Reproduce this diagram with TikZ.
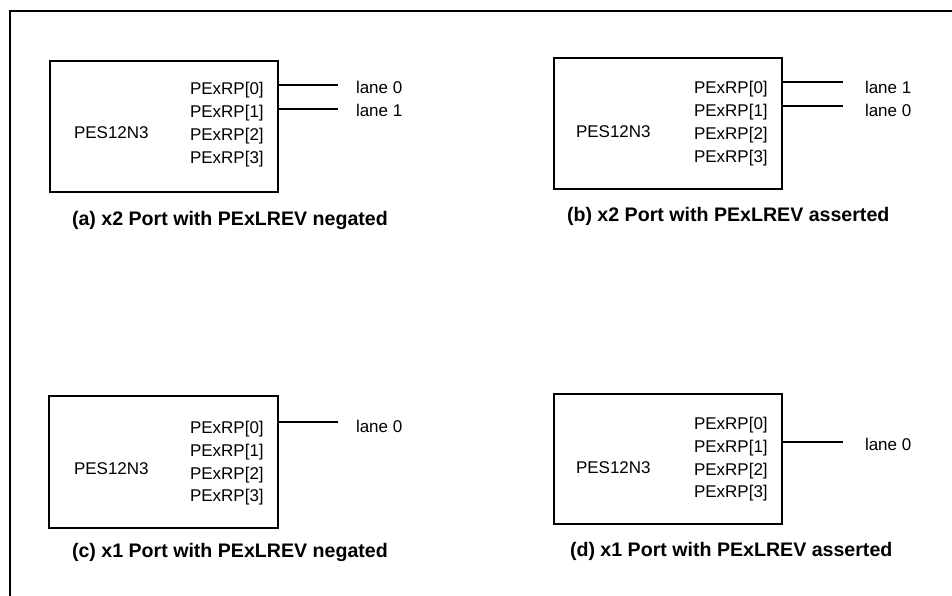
\documentclass[tikz,border=0pt]{standalone}
\usepackage{fontspec}
\setmainfont{Liberation Sans}
\begin{document}
\begin{tikzpicture}[x=1pt,y=-1pt,
  every node/.style={inner sep=0pt,outer sep=0pt,font=\fontsize{17}{20}\selectfont},
  lbl/.style={anchor=base west},
  captxt/.style={anchor=base west,font=\fontsize{19.6}{22}\selectfont\bfseries},
  chip/.style={draw,line width=2pt},
  wire/.style={line width=2pt}]
\useasboundingbox (0,0) rectangle (952,596);
\draw[line width=2pt] (10,597) -- (10,11) -- (953,11);

% (a)
\node[chip,minimum width=228pt,minimum height=131pt,anchor=north west] (A) at (50,61) {};
\node[lbl] (A0) at (190,95) {PExRP[0]};
\node[lbl] (A1) at (190,118) {PExRP[1]};
\node[lbl] (A2) at (190,141) {PExRP[2]};
\node[lbl] (A3) at (190,164) {PExRP[3]};
\node[lbl] (An) at (74,139) {PES12N3};
\node[lbl] (AL0) at (356,94) {lane 0};
\node[lbl] (AL1) at (356,117) {lane 1};
\coordinate (a0s) at (279,85); \coordinate (a0e) at (338,85);
\coordinate (a1s) at (279,109); \coordinate (a1e) at (338,109);
\draw[wire] (a0s) -- (a0e);
\draw[wire] (a1s) -- (a1e);
\node[captxt] (Ac) at (72,225) {(a) x2 Port with PExLREV negated};

% (b)
\node[chip,minimum width=228pt,minimum height=131pt,anchor=north west] (B) at (554,58) {};
\node[lbl] (B0) at (694,94) {PExRP[0]};
\node[lbl] (B1) at (694,117) {PExRP[1]};
\node[lbl] (B2) at (694,140) {PExRP[2]};
\node[lbl] (B3) at (694,163) {PExRP[3]};
\node[lbl] (Bn) at (576,138) {PES12N3};
\node[lbl] (BL1) at (865,94) {lane 1};
\node[lbl] (BL0) at (865,117) {lane 0};
\coordinate (b0s) at (783,82); \coordinate (b0e) at (843,82);
\coordinate (b1s) at (783,106); \coordinate (b1e) at (843,106);
\draw[wire] (b0s) -- (b0e);
\draw[wire] (b1s) -- (b1e);
\node[captxt] (Bc) at (567,221) {(b) x2 Port with PExLREV asserted};

% (c)
\node[chip,minimum width=229pt,minimum height=132pt,anchor=north west] (C) at (49,396) {};
\node[lbl] (C0) at (190,433) {PExRP[0]};
\node[lbl] (C1) at (190,456) {PExRP[1]};
\node[lbl] (C2) at (190,479) {PExRP[2]};
\node[lbl] (C3) at (190,501) {PExRP[3]};
\node[lbl] (Cn) at (74,474) {PES12N3};
\node[lbl] (CL0) at (356,432) {lane 0};
\coordinate (c0s) at (279,422); \coordinate (c0e) at (338,422);
\draw[wire] (c0s) -- (c0e);
\node[captxt] (Cc) at (72,557) {(c) x1 Port with PExLREV negated};

% (d)
\node[chip,minimum width=228pt,minimum height=130pt,anchor=north west] (D) at (554,394) {};
\node[lbl] (D0) at (694,429) {PExRP[0]};
\node[lbl] (D1) at (694,452) {PExRP[1]};
\node[lbl] (D2) at (694,475) {PExRP[2]};
\node[lbl] (D3) at (694,497) {PExRP[3]};
\node[lbl] (Dn) at (576,473) {PES12N3};
\node[lbl] (DL0) at (865,450) {lane 0};
\coordinate (d0s) at (783,442); \coordinate (d0e) at (843,442);
\draw[wire] (d0s) -- (d0e);
\node[captxt] (Dc) at (570,556) {(d) x1 Port with PExLREV asserted};
\end{tikzpicture}
\end{document}
